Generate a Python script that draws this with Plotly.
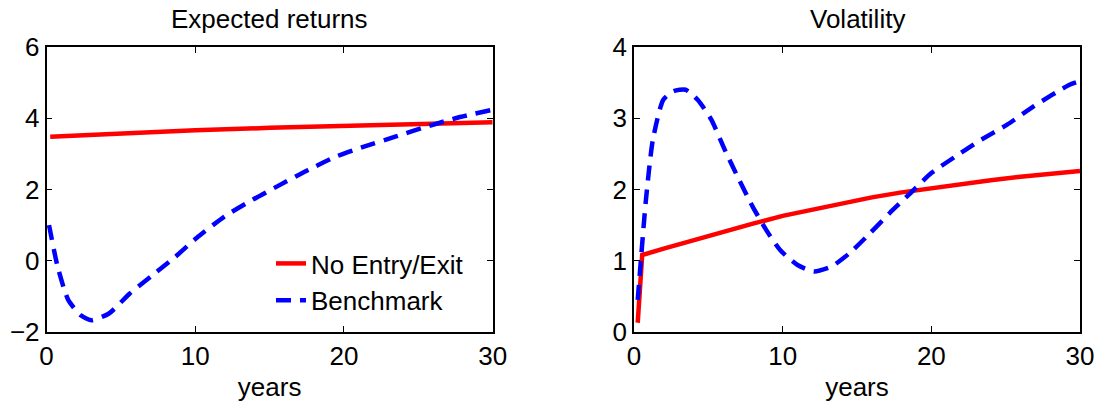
import plotly.graph_objects as go

# ---- data ----
years_ret_red = [0.25, 5, 10, 15, 20, 25, 30]
ret_no_entry = [3.48, 3.58, 3.66, 3.73, 3.79, 3.84, 3.89]

years_ret_blue = [0.17, 0.75, 1.46, 2.3, 3.0, 4.2, 5.6, 7.0, 8.66, 10.07, 11.96, 13.85,
                  15.7, 17.6, 19.5, 21.4, 23.5, 25.6, 27.5, 30]
ret_benchmark = [1.0, -0.17, -1.1, -1.53, -1.67, -1.48, -0.92, -0.45, 0.11, 0.63, 1.24, 1.71,
                 2.13, 2.55, 2.93, 3.21, 3.49, 3.77, 4.0, 4.24]

years_vol_red = [0.25, 0.55, 2, 4, 6, 8, 10, 12, 14, 16, 18, 20, 22, 24, 26, 28, 30]
vol_no_entry = [0.13, 1.08, 1.17, 1.29, 1.41, 1.52, 1.63, 1.72, 1.81, 1.89, 1.96, 2.02,
                2.08, 2.13, 2.18, 2.22, 2.26]

years_vol_blue = [0.25, 0.46, 0.8, 1.27, 1.97, 2.66, 3.47, 4.28, 5.2, 6.1, 7.06, 7.98, 8.9,
                  9.83, 11.0, 12.1, 13.3, 14.46, 15.85, 17.2, 18.6, 20.0, 21.6, 23.2, 25.1,
                  26.9, 29.3, 30]
vol_benchmark = [0.45, 1.0, 1.85, 2.7, 3.26, 3.38, 3.40, 3.26, 2.98, 2.56, 2.14, 1.76, 1.43,
                 1.15, 0.94, 0.85, 0.92, 1.10, 1.38, 1.67, 1.95, 2.23, 2.46, 2.68, 2.91,
                 3.17, 3.47, 3.52]

x_ticks = [0, 10, 20, 30]
ret_ticks = [-2, 0, 2, 4, 6]
vol_ticks = [0, 1, 2, 3, 4]

RED = "#FF0000"
BLUE = "#0000FF"
FONT = "Liberation Sans, Arial, Helvetica, sans-serif"
FS = 26

W, H = 1099, 405

fig = go.Figure()
fig.add_trace(go.Scatter(x=years_ret_red, y=ret_no_entry, mode="lines", name="No Entry/Exit",
                         line=dict(color=RED, width=4.5), xaxis="x", yaxis="y"))
fig.add_trace(go.Scatter(x=years_ret_blue, y=ret_benchmark, mode="lines", name="Benchmark",
                         line=dict(color=BLUE, width=4.5, dash="15px,9px", shape="spline", smoothing=0.6),
                         xaxis="x", yaxis="y"))
fig.add_trace(go.Scatter(x=years_vol_red, y=vol_no_entry, mode="lines", showlegend=False,
                         line=dict(color=RED, width=4.5), xaxis="x2", yaxis="y2"))
fig.add_trace(go.Scatter(x=years_vol_blue, y=vol_benchmark, mode="lines", showlegend=False,
                         line=dict(color=BLUE, width=4.5, dash="15px,9px", shape="spline", smoothing=0.6),
                         xaxis="x2", yaxis="y2"))

def px_x(p):
    return p / W

def px_y(p):
    return 1 - p / H

axis_common = dict(showline=True, linecolor="black", linewidth=1.5, mirror="ticks",
                   ticks="inside", ticklen=6, tickwidth=1, tickcolor="black",
                   showgrid=False, zeroline=False, automargin=False,
                   tickfont=dict(family=FONT, size=FS, color="black"))

fig.update_layout(
    width=W, height=H,
    margin=dict(l=0, r=0, t=0, b=0),
    paper_bgcolor="white", plot_bgcolor="white",
    font=dict(family=FONT, size=FS, color="black"),
    xaxis=dict(domain=[px_x(46.5), px_x(492.7)], range=[0, 30], tickvals=x_ticks, anchor="y",
               title=dict(text="years", font=dict(family=FONT, size=FS), standoff=8), **axis_common),
    yaxis=dict(domain=[px_y(332), px_y(47)], range=[-2, 6], tickvals=ret_ticks, anchor="x",
               **axis_common),
    xaxis2=dict(domain=[px_x(634), px_x(1080)], range=[0, 30], tickvals=x_ticks, anchor="y2",
                title=dict(text="years", font=dict(family=FONT, size=FS), standoff=8), **axis_common),
    yaxis2=dict(domain=[px_y(332), px_y(47)], range=[0, 4], tickvals=vol_ticks, anchor="x2",
                **axis_common),
    legend=dict(x=px_x(271), y=px_y(240), xanchor="left", yanchor="top",
                bgcolor="rgba(0,0,0,0)", font=dict(family=FONT, size=FS),
                tracegroupgap=0, itemwidth=30),
    annotations=[
        dict(text="Expected returns", x=(px_x(46.5) + px_x(492.7)) / 2, y=px_y(19),
             xref="paper", yref="paper", showarrow=False, xanchor="center", yanchor="middle",
             font=dict(family=FONT, size=FS, color="black")),
        dict(text="Volatility", x=(px_x(634) + px_x(1080)) / 2, y=px_y(19),
             xref="paper", yref="paper", showarrow=False, xanchor="center", yanchor="middle",
             font=dict(family=FONT, size=FS, color="black")),
    ],
)

fig.write_html(
    "out.html",
    config={"displayModeBar": False},
    post_script="document.body.style.margin='0';document.body.style.overflow='hidden';",
)
